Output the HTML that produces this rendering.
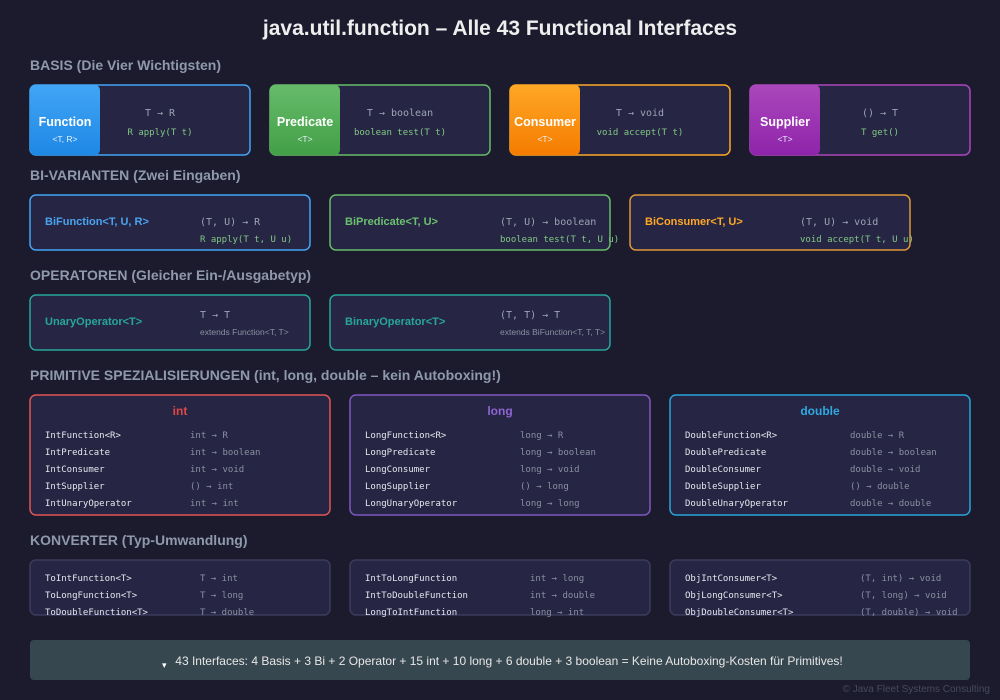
<!DOCTYPE html>
<html><head><meta charset="utf-8"><style>
html,body{margin:0;padding:0;background:#1c1b2d;}
svg{display:block}
.s{font-family:"Liberation Sans",sans-serif}
.m{font-family:"DejaVu Sans Mono","Liberation Mono",monospace}
</style></head><body>
<svg id="c" width="1000" height="700" viewBox="0 0 1000 700">
<defs>
<linearGradient id="gb" x1="0" y1="0" x2="0" y2="1"><stop offset="0" stop-color="#42a5f5"/><stop offset="1" stop-color="#1e88e5"/></linearGradient>
<linearGradient id="gg" x1="0" y1="0" x2="0" y2="1"><stop offset="0" stop-color="#66bb6a"/><stop offset="1" stop-color="#43a047"/></linearGradient>
<linearGradient id="go" x1="0" y1="0" x2="0" y2="1"><stop offset="0" stop-color="#ffa726"/><stop offset="1" stop-color="#f57c00"/></linearGradient>
<linearGradient id="gp" x1="0" y1="0" x2="0" y2="1"><stop offset="0" stop-color="#ab47bc"/><stop offset="1" stop-color="#8e24aa"/></linearGradient>
</defs>
<rect width="1000" height="700" fill="#1c1b2d"/>
<text class="s" x="500" y="35" text-anchor="middle" font-size="21" font-weight="bold" fill="#eeeeee">java.util.function – Alle 43 Functional Interfaces</text>
<g id="g"></g>
<rect x="30" y="640" width="940" height="40" rx="4" fill="#37474f"/>
<text class="s" x="162" y="668" font-size="9" fill="#fff">▾</text>
<text class="s" x="509" y="665" text-anchor="middle" font-size="12" fill="#e6e6e6">43 Interfaces: 4 Basis + 3 Bi + 2 Operator + 15 int + 10 long + 6 double + 3 boolean = Keine Autoboxing-Kosten für Primitives!</text>
<text class="s" x="990" y="692" text-anchor="end" font-size="10" fill="#454a5a">© Java Fleet Systems Consulting</text>
</svg>
<script>
const NS='http://www.w3.org/2000/svg';
const g=document.getElementById('g');
function el(tag,a,txt){const e=document.createElementNS(NS,tag);for(const k in a)e.setAttribute(k,a[k]);if(txt!==undefined)e.textContent=txt;g.appendChild(e);return e;}
function T(x,y,txt,cls,size,fill,extra){const a=Object.assign({x:x,y:y,class:cls,'font-size':size,fill:fill},extra||{});const e=el('text',a,txt);


return e;}
function box(x,y,w,h,stroke,name){const e=el('rect',{x:x,y:y,width:w,height:h,rx:6,fill:'#262644',stroke:stroke,'stroke-width':1.5});


return e;}
const sections=[["BASIS (Die Vier Wichtigsten)",70],["BI-VARIANTEN (Zwei Eingaben)",180],["OPERATOREN (Gleicher Ein-/Ausgabetyp)",280],["PRIMITIVE SPEZIALISIERUNGEN (int, long, double – kein Autoboxing!)",380],["KONVERTER (Typ-Umwandlung)",545]];
sections.forEach(s=>{const e=T(30,s[1],s[0],'s',14,'#8e9aab',{'font-weight':'bold'});
});
const basis=[["Function","<T, R>","T → R","R apply(T t)","#42a5f5","url(#gb)"],["Predicate","<T>","T → boolean","boolean test(T t)","#66bb6a","url(#gg)"],["Consumer","<T>","T → void","void accept(T t)","#ffa726","url(#go)"],["Supplier","<T>","() → T","T get()","#ab47bc","url(#gp)"]];
basis.forEach((b,i)=>{const x=30+i*240;box(x,85,220,70,b[4],'basis-card');
const c=el('path',{d:`M${x+6} 85 H${x+64} Q${x+70} 85 ${x+70} 91 V149 Q${x+70} 155 ${x+64} 155 H${x+6} Q${x} 155 ${x} 149 V91 Q${x} 85 ${x+6} 85 Z`,fill:b[5]});


T(x+35,126,b[0],'s',12.5,'#fff',{'text-anchor':'middle','font-weight':'bold'});
T(x+35,142,b[1],'s',8.5,'#e8f0ff',{'text-anchor':'middle'});
T(x+130,116,b[2],'m',10,'#9da3b4',{'text-anchor':'middle'});
T(x+130,135,b[3],'m',9,'#81c784',{'text-anchor':'middle'});});
const bi=[["BiFunction<T, U, R>","(T, U) → R","R apply(T t, U u)","#42a5f5","#4aa3ee"],["BiPredicate<T, U>","(T, U) → boolean","boolean test(T t, U u)","#66bb6a","#6cc070"],["BiConsumer<T, U>","(T, U) → void","void accept(T t, U u)","#e0963a","#ffa726"]];
bi.forEach((b,i)=>{const x=30+i*300;box(x,195,280,55,b[3],'bi-card');
T(x+15,225,b[0],'s',11,b[4],{'font-weight':'bold'});
T(x+170,225,b[1],'m',10,'#9da3b4');
T(x+170,242,b[2],'m',9,'#81c784');});
const ops=[["UnaryOperator<T>","T → T","extends Function<T, T>"],["BinaryOperator<T>","(T, T) → T","extends BiFunction<T, T, T>"]];
ops.forEach((b,i)=>{const x=30+i*300;box(x,295,280,55,'#26a69a','operator-card');
T(x+15,325,b[0],'s',11,'#26a69a',{'font-weight':'bold'});
T(x+170,318,b[1],'m',10,'#9da3b4');
T(x+170,335,b[2],'s',8.5,'#8a90a0');});
const prims=[["int","#e05555","#e04848",160,[["IntFunction<R>","int → R"],["IntPredicate","int → boolean"],["IntConsumer","int → void"],["IntSupplier","() → int"],["IntUnaryOperator","int → int"]]],
["long","#7e57c2","#8e63d2",170,[["LongFunction<R>","long → R"],["LongPredicate","long → boolean"],["LongConsumer","long → void"],["LongSupplier","() → long"],["LongUnaryOperator","long → long"]]],
["double","#29a3d9","#31a8e0",180,[["DoubleFunction<R>","double → R"],["DoublePredicate","double → boolean"],["DoubleConsumer","double → void"],["DoubleSupplier","() → double"],["DoubleUnaryOperator","double → double"]]]];
prims.forEach((p,i)=>{const x=30+i*320;box(x,395,300,120,p[1],'primitive-card');
T(x+150,415,p[0],'s',12,p[2],{'text-anchor':'middle','font-weight':'bold'});
p[4].forEach((r,j)=>{T(x+15,438+j*17,r[0],'m',9,'#e6e6ee');T(x+p[3],438+j*17,r[1],'m',9,'#8a90a0');});});
const conv=[[170,[["ToIntFunction<T>","T → int"],["ToLongFunction<T>","T → long"],["ToDoubleFunction<T>","T → double"]]],
[180,[["IntToLongFunction","int → long"],["IntToDoubleFunction","int → double"],["LongToIntFunction","long → int"]]],
[190,[["ObjIntConsumer<T>","(T, int) → void"],["ObjLongConsumer<T>","(T, long) → void"],["ObjDoubleConsumer<T>","(T, double) → void"]]]];
conv.forEach((c,i)=>{const x=30+i*320;
const e=el('rect',{x:x,y:560,width:300,height:55,rx:6,fill:'#262644',stroke:'#3b3b5c','stroke-width':1.5});


c[1].forEach((r,j)=>{T(x+15,581+j*17,r[0],'m',9,'#e6e6ee');T(x+c[0],581+j*17,r[1],'m',9,'#8a90a0');});});
</script>
</body></html>
